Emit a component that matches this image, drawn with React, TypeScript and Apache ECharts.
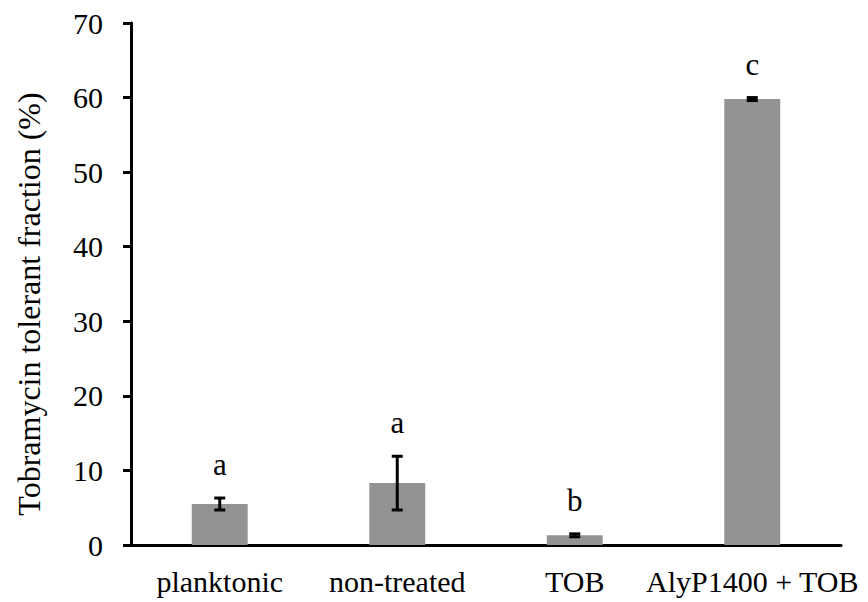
import React, { useEffect, useRef } from "react";
import * as echarts from "echarts";

const categories = ["planktonic", "non-treated", "TOB", "AlyP1400 + TOB"];
const means = [5.5, 8.3, 1.3, 59.8];
const errors = [0.8, 3.6, 0.2, 0.2];
const letters = ["a", "a", "b", "c"];
const yTicks = { min: 0, max: 70, interval: 10 };

const FONT = "Liberation Serif";

export default function App() {
  const ref = useRef<HTMLDivElement>(null);
  useEffect(() => {
    document.body.style.margin = "0";
    const chart = echarts.init(ref.current!, null, { renderer: "svg" });
    const errData = means.map((m, i) => [i, m, errors[i]]);
    chart.setOption({
      animation: false,
      backgroundColor: "#ffffff",
      textStyle: { fontFamily: FONT },
      grid: { left: 131, right: 27, top: 23, bottom: 57 },
      xAxis: {
        type: "category",
        data: categories,
        axisLine: { lineStyle: { color: "#000", width: 3 } },
        axisTick: { show: false },
        axisLabel: { color: "#000", fontFamily: FONT, fontSize: 30, margin: 21, interval: 0 },
      },
      yAxis: {
        type: "value",
        min: yTicks.min,
        max: yTicks.max,
        interval: yTicks.interval,
        name: "Tobramycin tolerant fraction (%)",
        nameLocation: "middle",
        nameGap: 86,
        nameTextStyle: { color: "#000", fontFamily: FONT, fontSize: 32, padding: [0, 40, 0, 0] },
        axisLine: { show: true, lineStyle: { color: "#000", width: 3 } },
        axisTick: { show: true, length: 8, lineStyle: { color: "#000", width: 3 } },
        axisLabel: { color: "#000", fontFamily: FONT, fontSize: 30, margin: 28 },
        splitLine: { show: false },
      },
      series: [
        {
          type: "bar",
          data: means,
          barWidth: "31.5%",
          itemStyle: { color: "#939393" },
        },
        {
          type: "custom",
          data: errData,
          z: 10,
          renderItem: (params: any, api: any) => {
            const idx = api.value(0);
            const m = api.value(1);
            const e = api.value(2);
            const letter = letters[params.dataIndex];
            const top = api.coord([idx, m + e]);
            const bot = api.coord([idx, m - e]);
            const half = 5.5;
            const st = { stroke: "#000", lineWidth: 3 };
            return {
              type: "group",
              children: [
                { type: "line", shape: { x1: top[0], y1: top[1], x2: bot[0], y2: bot[1] }, style: st },
                { type: "line", shape: { x1: top[0] - half, y1: top[1], x2: top[0] + half, y2: top[1] }, style: st },
                { type: "line", shape: { x1: bot[0] - half, y1: bot[1], x2: bot[0] + half, y2: bot[1] }, style: st },
                {
                  type: "text",
                  x: top[0],
                  y: top[1] - 18,
                  style: {
                    text: letter,
                    fill: "#000",
                    fontSize: 31,
                    fontFamily: FONT,
                    textAlign: "center",
                    textVerticalAlign: "bottom",
                  },
                },
              ],
            };
          },
        },
      ],
    });
    return () => chart.dispose();
  }, []);
  return <div ref={ref} style={{ width: 868, height: 602 }} />;
}
